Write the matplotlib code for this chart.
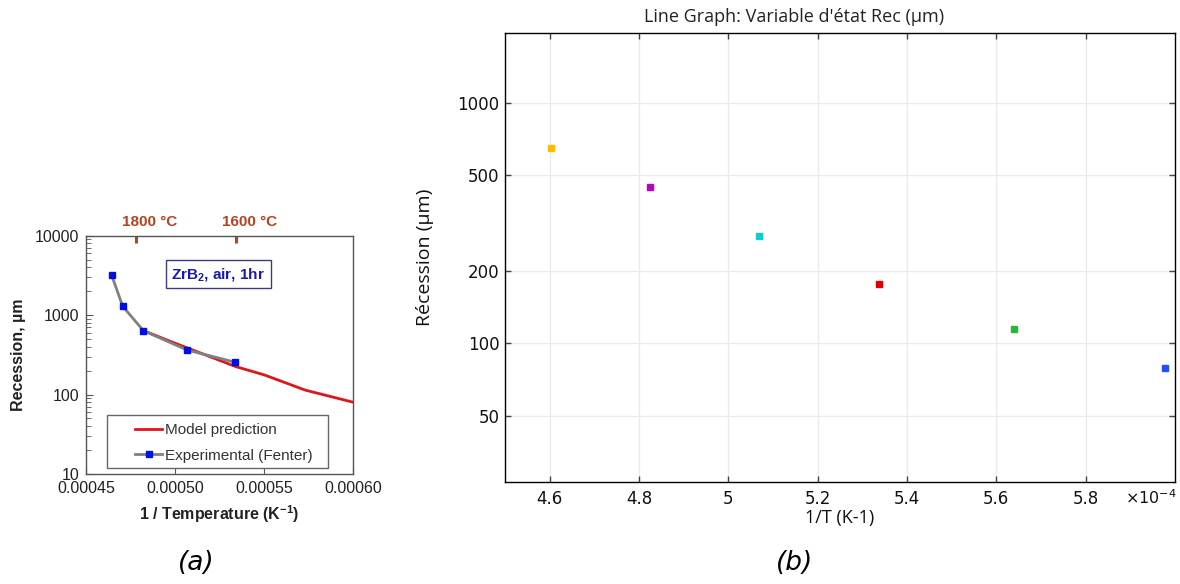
import matplotlib
matplotlib.use("Agg")
import matplotlib.pyplot as plt
from matplotlib.patches import Rectangle
from matplotlib.ticker import FixedLocator, FuncFormatter, LogLocator, NullFormatter, NullLocator

plt.rcParams["mathtext.default"] = "regular"

# panel (a): published model vs experiment
inv_t_exp = [0.0004644, 0.0004706, 0.0004822, 0.0005067, 0.0005338]
rec_exp = [3180, 1294, 638, 364, 255]
inv_t_model = [0.0004822, 0.0005000, 0.0005340, 0.0005500, 0.0005729, 0.0006000]
rec_model = [638, 443, 225, 177, 114, 80]
temp_marks = [0.000478, 0.000534]
temp_labels = ["1800 °C", "1600 °C"]
a_xticks = [0.00045, 0.00050, 0.00055, 0.00060]
a_xticklabels = ["0.00045", "0.00050", "0.00055", "0.00060"]
a_yticks = [10, 100, 1000, 10000]

# panel (b): simulation, one point per temperature
inv_t_sim = [4.602e-4, 4.824e-4, 5.068e-4, 5.338e-4, 5.640e-4, 5.977e-4]
rec_sim = [646, 446, 278, 176, 115, 78.7]
sim_colors = ["#ffbb00", "#c000c0", "#10cccc", "#dd0000", "#22bb33", "#1f4fff"]
b_xticks = [4.6e-4, 4.8e-4, 5.0e-4, 5.2e-4, 5.4e-4, 5.6e-4, 5.8e-4]
b_yticks = [50, 100, 200, 500, 1000]

W, H = 1180, 584
fig = plt.figure(figsize=(W / 100, H / 100), dpi=100)

# ---------------- (a) ----------------
arial = "Liberation Sans"
brown = "#b5431f"
axc = "#555555"
ax1 = fig.add_axes([86 / W, 1 - 474 / H, 267.3 / W, 238.3 / H])
ax1.set_yscale("log")
ax1.plot(inv_t_model, rec_model, color="#e0151b", lw=2.0, label="Model prediction", zorder=2)
ax1.plot(inv_t_exp, rec_exp, color="#808080", lw=2.0, marker="s", ms=4.5,
         mfc="#0010e0", mec="#0010e0", label="Experimental (Fenter)", zorder=3)
ax1.set_xlim(0.00045, 0.0006)
ax1.set_ylim(10, 10000)
ax1.xaxis.set_major_locator(FixedLocator(a_xticks))
ax1.set_xticklabels(a_xticklabels)
ax1.yaxis.set_major_locator(FixedLocator(a_yticks))
ax1.set_yticklabels([str(v) for v in a_yticks])
ax1.yaxis.set_minor_locator(LogLocator(base=10, subs=range(2, 10)))
ax1.yaxis.set_minor_formatter(NullFormatter())
ax1.xaxis.set_minor_locator(NullLocator())
ax1.tick_params(which="both", direction="in", top=False, right=False, color=axc,
                labelsize=11.5, labelcolor="#222222", pad=5)
ax1.tick_params(which="major", length=5)
ax1.tick_params(which="minor", length=3.5)
for lab in ax1.get_xticklabels() + ax1.get_yticklabels():
    lab.set_family(arial)
for sp in ax1.spines.values():
    sp.set_color(axc)
    sp.set_linewidth(1.0)

sec = ax1.secondary_xaxis("top")
sec.set_xticks(temp_marks)
sec.set_xticklabels([])
sec.tick_params(direction="in", length=5, width=2.2, color=brown)
for sp in sec.spines.values():
    sp.set_visible(False)
for xm, lab in zip(temp_marks, temp_labels):
    ax1.annotate(lab, xy=(xm, 1), xycoords=("data", "axes fraction"), xytext=(10, 10),
                 textcoords="offset points", ha="center", va="center",
                 color=brown, fontsize=11, fontweight="bold", family=arial)

ax1.text(0.495, 0.838, "ZrB$_2$, air, 1hr", transform=ax1.transAxes, ha="center", va="center",
         color="#1a1ab0", fontsize=11, fontweight="bold", family=arial,
         bbox=dict(boxstyle="square,pad=0.35", fc="white", ec="#3a3a8a", lw=1.0))

# legend frame drawn separately so the entries can sit well inside it
ax1.add_patch(Rectangle((0.08, 0.024), 0.826, 0.224, transform=ax1.transAxes,
                        fc="white", ec="#666666", lw=1.0, zorder=4))
leg = ax1.legend(loc="center left", bbox_to_anchor=(0.183, 0.131), frameon=False,
                 borderpad=0, borderaxespad=0, labelspacing=0.75, handlelength=1.8,
                 handletextpad=0.2, prop={"family": arial, "size": 11})
leg.set_zorder(5)
for t in leg.get_texts():
    t.set_color("#333333")

ax1.set_ylabel("Recession, µm", family=arial, fontsize=11.5, fontweight="bold", color="#222222")
ax1.yaxis.set_label_coords((26 - 86) / 267.3, 0.5)
ax1.set_xlabel("1 / Temperature (K$^{-1}$)", family=arial, fontsize=11.5, fontweight="bold",
               color="#222222")
ax1.xaxis.set_label_coords(0.5, -(503 - 474) / 238.3)

# ---------------- (b) ----------------
ax2 = fig.add_axes([505 / W, 1 - 482 / H, 670 / W, 449 / H])
ax2.set_yscale("log")
for xv, yv, c in zip(inv_t_sim, rec_sim, sim_colors):
    ax2.plot([xv], [yv], ls="none", marker="s", ms=3.8, mfc=c, mec=c, zorder=3)
ax2.set_xlim(4.5e-4, 6.0e-4)
ax2.set_ylim(26.5, 1950)
ax2.xaxis.set_major_locator(FixedLocator(b_xticks))
ax2.xaxis.set_major_formatter(FuncFormatter(lambda v, p: "%g" % round(v * 1e4, 3)))
ax2.yaxis.set_major_locator(FixedLocator(b_yticks))
ax2.yaxis.set_major_formatter(FuncFormatter(lambda v, p: "%g" % v))
ax2.yaxis.set_minor_locator(NullLocator())
ax2.xaxis.set_minor_locator(NullLocator())
ax2.grid(True, color="#ebebeb", lw=1.0)
ax2.set_axisbelow(True)
ax2.tick_params(direction="in", top=True, right=True, length=4, width=1, color="#444444",
                labelsize=12, labelcolor="#111111")
ax2.tick_params(axis="x", pad=6)
ax2.tick_params(axis="y", pad=4)
for sp in ax2.spines.values():
    sp.set_color("black")
    sp.set_linewidth(1.0)

ax2.set_ylabel("Récession (µm)", family="Open Sans", fontsize=14, color="#111111")
ax2.yaxis.set_label_coords((434 - 505) / 670, 0.5)
ax2.set_xlabel("1/T (K-1)", family="Open Sans", fontsize=13, color="#111111")
ax2.xaxis.set_label_coords(0.5, -(509 - 482) / 449)
fig.text(794 / W, 1 - 17 / H, "Line Graph: Variable d'état Rec (µm)", family="Open Sans",
         fontsize=13, color="#222222", ha="center", va="center")
fig.text(1177 / W, 1 - 498 / H, "×10$^{-4}$", fontsize=11.5, color="#111111", ha="right", va="center")

# panel captions
fig.text(196 / W, 1 - 563 / H, "(a)", fontsize=19, style="italic", ha="center", va="center")
fig.text(795 / W, 1 - 563 / H, "(b)", fontsize=19, style="italic", ha="center", va="center")

fig.savefig("out.png", dpi=100, facecolor="white")
